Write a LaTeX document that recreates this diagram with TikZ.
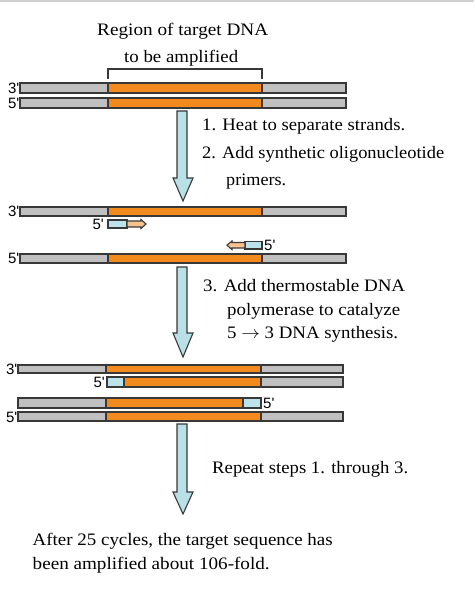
\documentclass[tikz,border=0pt]{standalone}
\usepackage{fontspec}
\setmainfont{Liberation Serif}
\newfontfamily\lblfont{Liberation Sans}
\usepackage{graphicx}
\definecolor{dnagray}{HTML}{C0C0C0}
\definecolor{dnaorange}{HTML}{F28A1E}
\definecolor{primblue}{HTML}{BDE3EA}
\definecolor{primorange}{HTML}{F9C28E}
\definecolor{edgecol}{HTML}{383838}
\definecolor{arrowblue}{HTML}{B9E0E6}
\newcommand{\tw}[2]{\resizebox{#1}{\height}{#2}}
\newcommand{\dnaseg}[5]{\filldraw[segstyle, fill=#5] (#1,#3) rectangle (#2,#4);}
\begin{document}
\begin{tikzpicture}[x=1pt,y=-1pt,
  txt/.style={inner sep=0pt, font=\fontsize{17.5}{21}\selectfont, anchor=base west},
  lbl/.style={inner sep=0pt, font=\lblfont\fontsize{15}{18}\selectfont},
  segstyle/.style={draw=edgecol, line width=1.1pt},
  bigarrow/.style={draw=edgecol, fill=arrowblue, line width=1.1pt, line join=miter}]
\useasboundingbox (0,0) rectangle (474,596);
\fill[white] (0,0) rectangle (474,596);
\fill[black!18] (0,0) rectangle (474,2.5);

% title
\node[txt] (title1) at (97,35.5) {\tw{171pt}{Region of target DNA}};
\node[txt] (title2) at (124,62.5) {\tw{114pt}{to be amplified}};
\draw[edgecol, line width=1.1pt] (108,79) -- (108,69) -- (262,69) -- (262,79);

% top duplex
\dnaseg{20}{108}{83}{93}{dnagray}
\dnaseg{108}{262}{83}{93}{dnaorange}
\dnaseg{262}{346}{83}{93}{dnagray}
\dnaseg{20}{108}{98}{108}{dnagray}
\dnaseg{108}{262}{98}{108}{dnaorange}
\dnaseg{262}{346}{98}{108}{dnagray}
\node[lbl, anchor=east] (l1) at (19.5,88) {3'};
\node[lbl, anchor=east] (l2) at (19.5,103) {5'};

% arrow 1
\draw[bigarrow] (177,111) -- (187,111) -- (187,178) -- (193,178) -- (183,201) -- (173,178) -- (177,178) -- cycle;
\node[txt] (s1) at (202,130.5) {\tw{203pt}{1. Heat to separate strands.}};
\node[txt] (s2) at (202,158) {\tw{242pt}{2. Add synthetic oligonucleotide}};
\node[txt] (s2b) at (226,185) {\tw{60pt}{primers.}};

% separated strands with primers
\dnaseg{20}{108}{207}{216}{dnagray}
\dnaseg{108}{262}{207}{216}{dnaorange}
\dnaseg{262}{346}{207}{216}{dnagray}
\dnaseg{20}{108}{254}{263}{dnagray}
\dnaseg{108}{262}{254}{263}{dnaorange}
\dnaseg{262}{346}{254}{263}{dnagray}
\node[lbl, anchor=east] (l3) at (19.5,211.5) {3'};
\node[lbl, anchor=east] (l4) at (19.5,258.5) {5'};

\dnaseg{108}{127}{220}{228}{primblue}
\draw[segstyle, fill=primorange] (127,221) -- (141,221) -- (141,219.5) -- (146,224) -- (141,228.5) -- (141,227) -- (127,227) -- cycle;
\node[lbl, anchor=east] (l5) at (104,224.5) {5'};

\dnaseg{245}{262}{241.5}{249}{primblue}
\draw[segstyle, fill=primorange] (245,242.5) -- (232,242.5) -- (232,241) -- (227,245.2) -- (232,249.5) -- (232,248) -- (245,248) -- cycle;
\node[lbl, anchor=west] (l6) at (264,245) {5'};

% arrow 2
\draw[bigarrow] (177,267) -- (187,267) -- (187,333) -- (193,333) -- (183,357) -- (173,333) -- (177,333) -- cycle;
\node[txt] (s3) at (203,291.5) {\tw{202pt}{3. Add thermostable DNA}};
\node[txt] (s3b) at (227,315.5) {\tw{173pt}{polymerase to catalyze}};
\node[txt] (s3c) at (227,338) {\tw{171pt}{5 $\rightarrow$ 3 DNA synthesis.}};

% two duplexes
\dnaseg{18}{106}{365}{373}{dnagray}
\dnaseg{106}{261}{365}{373}{dnaorange}
\dnaseg{261}{343}{365}{373}{dnagray}
\dnaseg{107}{124}{377}{387}{primblue}
\dnaseg{124}{261}{377}{387}{dnaorange}
\dnaseg{261}{343}{377}{387}{dnagray}
\dnaseg{18}{106}{398}{408}{dnagray}
\dnaseg{106}{243}{398}{408}{dnaorange}
\dnaseg{243}{261}{398}{408}{primblue}
\dnaseg{18}{106}{412}{421}{dnagray}
\dnaseg{106}{261}{412}{421}{dnaorange}
\dnaseg{261}{343}{412}{421}{dnagray}
\node[lbl, anchor=east] (l7) at (17.5,369) {3'};
\node[lbl, anchor=east] (l8) at (105,382.5) {5'};
\node[lbl, anchor=west] (l9) at (263,403) {5'};
\node[lbl, anchor=east] (l10) at (17.5,417) {5'};

% arrow 3
\draw[bigarrow] (177,424) -- (187,424) -- (187,492) -- (193,492) -- (183,514) -- (173,492) -- (177,492) -- cycle;
\node[txt] (s4) at (212,473.5) {\tw{196pt}{Repeat steps 1. through 3.}};

\node[txt] (f1) at (32.5,545.5) {\tw{300pt}{After 25 cycles, the target sequence has}};
\node[txt] (f2) at (32.5,569.5) {\tw{237pt}{been amplified about 106-fold.}};
\end{tikzpicture}
\end{document}
